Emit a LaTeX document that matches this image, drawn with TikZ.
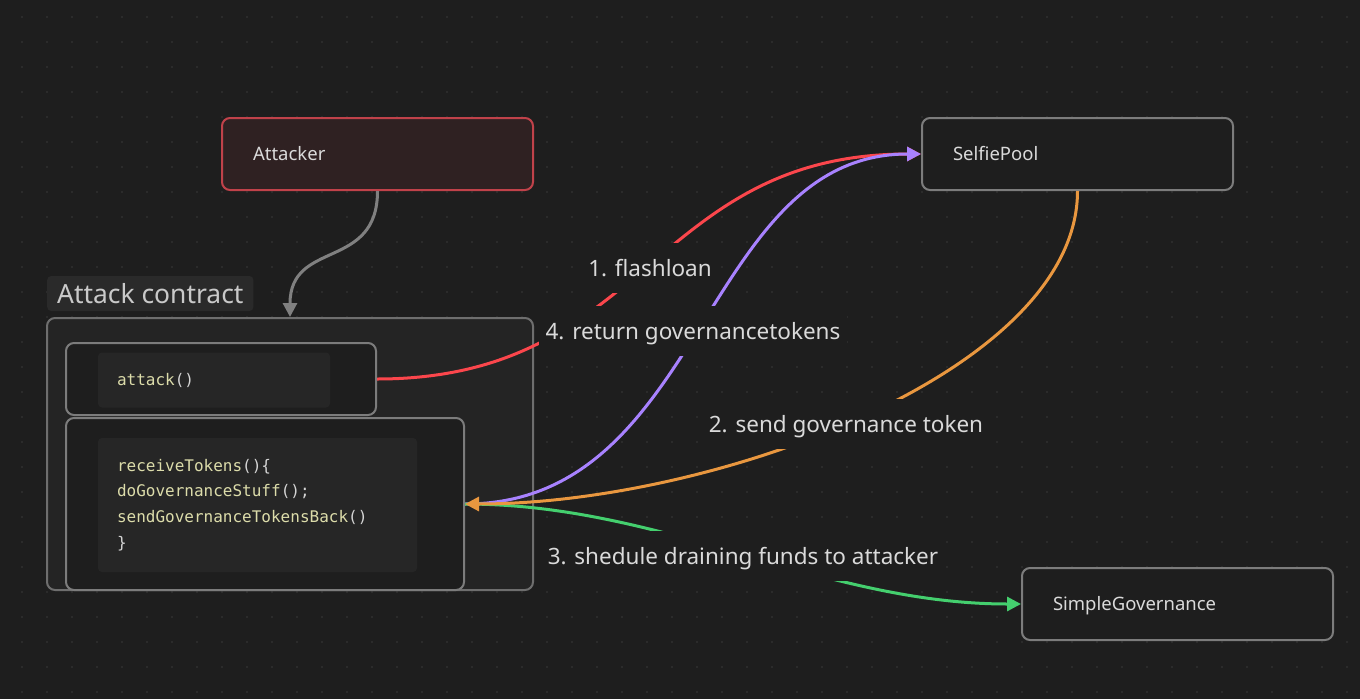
\documentclass[tikz,border=0pt]{standalone}
\usepackage{fontspec}
\setmainfont{Noto Sans}
\setmonofont{DejaVu Sans Mono}
\usetikzlibrary{arrows.meta}
\definecolor{bgc}{HTML}{1E1E1E}
\definecolor{dotc}{HTML}{303030}
\definecolor{grpfill}{HTML}{242424}
\definecolor{grpline}{HTML}{6E6E6E}
\definecolor{boxline}{HTML}{7C7C7C}
\definecolor{codefill}{HTML}{262626}
\definecolor{lblfill}{HTML}{2A2A2A}
\definecolor{txtc}{HTML}{DADADA}
\definecolor{fnc}{HTML}{DCDCAA}
\definecolor{puc}{HTML}{D4D4D4}
\definecolor{attfill}{HTML}{2F2122}
\definecolor{attline}{HTML}{C0424A}
\definecolor{redc}{HTML}{FB464C}
\definecolor{purc}{HTML}{A882FF}
\definecolor{orac}{HTML}{E9973F}
\definecolor{grnc}{HTML}{44CF6E}
\definecolor{grayc}{HTML}{808080}
\newcommand{\fnpart}[1]{\textcolor{fnc}{#1}}
\newcommand{\pupart}[1]{\textcolor{puc}{#1}}
\begin{document}
\begin{tikzpicture}[x=1pt,y=-1pt,
  cardbox/.style={draw=boxline, line width=2pt, fill=bgc, rounded corners=8pt,
    minimum height=72pt, text width=249pt, inner xsep=31pt, align=left,
    text height=13.2pt, text depth=0pt,
    text=txtc, font=\fontsize{18.5}{22}\selectfont},
  attbox/.style={cardbox, draw=attline, fill=attfill},
  grpbox/.style={draw=grpline, line width=2pt, fill=grpfill, rounded corners=8pt,
    minimum width=486pt, minimum height=272pt, inner sep=0pt},
  grplabel/.style={fill=lblfill, rounded corners=4pt, minimum height=35pt,
    inner xsep=10pt, text=txtc!92!black, font=\fontsize{26.4}{30}\selectfont},
  innerbox/.style={draw=boxline, line width=2pt, fill=bgc, rounded corners=8pt, inner sep=0pt},
  codebox/.style={fill=codefill, rounded corners=4pt, inner xsep=19pt, align=left,
    font=\ttfamily\fontsize{16}{25.7}\selectfont},
  edge/.style={line width=3pt, -{Triangle[length=14pt,width=14pt]}},
  lbl/.style={fill=bgc, inner xsep=7pt, minimum height=50pt, text=txtc,
    text height=16pt, text depth=0pt,
    font=\fontsize{22.5}{27}\selectfont}
]
\fill[bgc] (0,0) rectangle (1360,699);
\useasboundingbox (0,0) rectangle (1360,699);
\foreach \i in {0,...,53}{
  \foreach \j in {0,...,27}{
    \fill[dotc] (22+25*\i,17+25*\j) circle[radius=1.1pt];
  }
}
% group
\node[grpbox] (grp) at (290,454) {};
\node[grplabel, anchor=west] (grplbl) at (47,293.5) {Attack contract};
\node[innerbox, minimum width=310pt, minimum height=72pt] (atk) at (221,379) {};
\node[innerbox, minimum width=398pt, minimum height=172pt] (recv) at (265,504) {};
\node[codebox, text width=194pt, minimum height=55pt] (atkcode) at (214,380)
  {\fnpart{attack}\pupart{()}};
\node[codebox, text width=281pt, minimum height=134pt] (recvcode) at (257.5,505)
  {\fnpart{receiveTokens}\pupart{()\{}\\
   \fnpart{doGovernanceStuff}\pupart{();}\\
   \fnpart{sendGovernanceTokensBack}\pupart{()}\\
   \pupart{\}}};
% cards
\node[attbox] (attacker) at (377.5,154) {Attacker};
\node[cardbox] (pool) at (1077.5,154) {SelfiePool};
\node[cardbox] (gov) at (1177.5,604) {SimpleGovernance};
% edges
\draw[edge, grayc] (attacker.south) .. controls +(0,80) and +(0,-78) .. (grp.north);
\draw[edge, redc] (atk.east) .. controls +(270,0) and +(-270,0) .. (pool.west);
\draw[edge, purc] (recv.east) .. controls +(240,0) and +(-220,0) .. (pool.west);
\draw[edge, grnc] (recv.east) .. controls +(200,0) and +(-200,0) .. (gov.west);
\draw[edge, orac] (pool.south) .. controls +(0,180) and +(250,0) .. (recv.east);
% labels
\node[lbl] (l1) at (650,268) {1. flashloan};
\node[lbl] (l4) at (693,331) {4. return governancetokens};
\node[lbl] (l2) at (846,424) {2. send governance token};
\node[lbl] (l3) at (743,556) {3. shedule draining funds to attacker};
\end{tikzpicture}
\end{document}
